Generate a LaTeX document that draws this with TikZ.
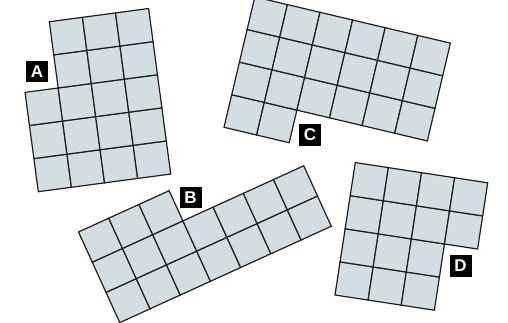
\documentclass[tikz,border=0pt]{standalone}
\usepackage{fontspec}
\setmainfont{Liberation Sans}
\definecolor{tile}{HTML}{D3DEE2}
\definecolor{edge}{HTML}{1E1E1E}
\tikzset{
  cell/.style={fill=tile,draw=edge,line width=1.2pt,line join=miter},
  lab/.style={fill=black,text=white,font=\bfseries\fontsize{17}{17}\selectfont,
    minimum width=22pt,minimum height=21.5pt,inner sep=0pt}
}
\newcommand\cellblock[4]{% cols range, rows range
  \foreach \r in {#3,...,#4}{\foreach \c in {#1,...,#2}{
    \draw[cell] (\c,\r) -- ++(1,0) -- ++(0,1) -- ++(-1,0) -- cycle;}}}
\begin{document}
\begin{tikzpicture}[x=1pt,y=1pt]
\useasboundingbox (0,0) rectangle (508,322);
\clip (0,0) rectangle (508,322);
% A
\begin{scope}[shift={(38.3,130.3)},rotate=7.6,x=33.4pt,y=33.4pt]
  \cellblock{0}{3}{0}{2}
  \cellblock{1}{3}{3}{4}
\end{scope}
% B
\begin{scope}[shift={(119.8,-0.6)},rotate=24.5,x=33.2pt,y=33.2pt]
  \cellblock{0}{6}{0}{1}
  \cellblock{0}{2}{2}{2}
\end{scope}
% C
\begin{scope}[shift={(224,194.7)},rotate=-13.3,x=33.5pt,y=33.5pt]
  \cellblock{0}{1}{0}{0}
  \cellblock{0}{5}{1}{3}
\end{scope}
% D
\begin{scope}[shift={(335,27)},rotate=-8.7,x=33.5pt,y=33.5pt]
  \cellblock{0}{2}{0}{1}
  \cellblock{0}{3}{2}{3}
\end{scope}
\node[lab] (la) at (37,250.5) {A};
\node[lab] (lb) at (190.5,124.5) {B};
\node[lab] (lc) at (310,187) {C};
\node[lab] (ld) at (460.5,56) {D};
\end{tikzpicture}
\end{document}
